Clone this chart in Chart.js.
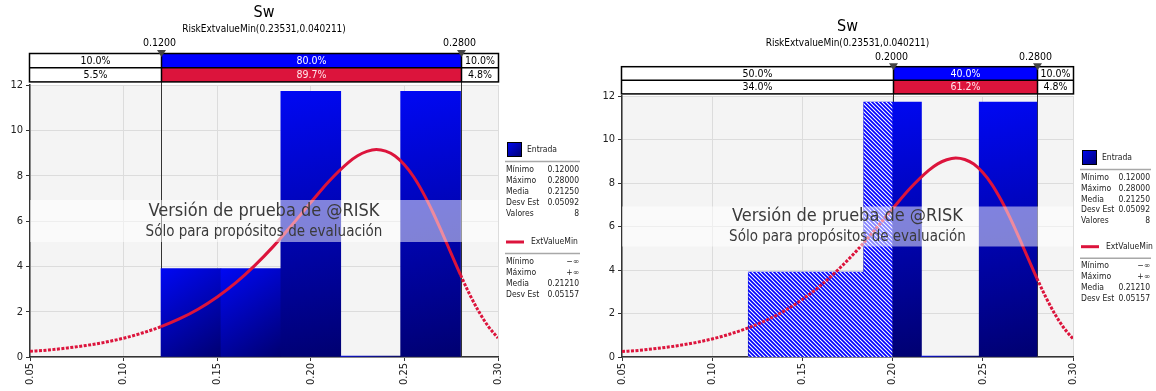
<!DOCTYPE html>
<html>
<head>
<meta charset="utf-8">
<script src="https://cdn.jsdelivr.net/npm/chart.js@4.4.1/dist/chart.umd.min.js"></script>
<style>
  html, body { margin: 0; padding: 0; background: #fff; }
  #wrap { position: relative; width: 1156px; height: 391px; }
  #leftBox { position: absolute; left: 0; top: 0; width: 580px; height: 391px; }
  #rightBox { position: absolute; left: 580px; top: 0; width: 576px; height: 391px; }
</style>
</head>
<body>
<div id="wrap">
  <div id="leftBox"><canvas id="leftChart"></canvas></div>
  <div id="rightBox"><canvas id="rightChart"></canvas></div>
</div>
<script>
// histogram of the 8 input values (density)
const binCenters = [0.136, 0.168, 0.200, 0.232, 0.264];
const binDensity = [3.906, 3.906, 11.719, 0, 11.719];
const binWidth = 0.032;

// fitted ExtValueMin curve
const curveX = [0.05, 0.06, 0.07, 0.08, 0.09, 0.10, 0.11, 0.12, 0.13, 0.14, 0.15, 0.16, 0.17, 0.18, 0.19,
  0.20, 0.21, 0.22, 0.225, 0.23, 0.235, 0.24, 0.245, 0.25, 0.255, 0.26, 0.265, 0.27, 0.275, 0.28,
  0.285, 0.29, 0.295, 0.30];
const curveY = [0.25, 0.31, 0.40, 0.51, 0.65, 0.83, 1.06, 1.34, 1.69, 2.12, 2.65, 3.28, 4.03, 4.88, 5.83,
  6.82, 7.78, 8.58, 8.88, 9.07, 9.15, 9.08, 8.87, 8.48, 7.94, 7.24, 6.42, 5.51, 4.56, 3.62,
  2.74, 1.97, 1.33, 0.84];

const xTicks = [0.05, 0.10, 0.15, 0.20, 0.25, 0.30];
const yTicks = [0, 2, 4, 6, 8, 10, 12];

const titleText = "Sw";
const subtitleText = "RiskExtvalueMin(0.23531,0.040211)";
const watermark1 = "Versión de prueba de @RISK";
const watermark2 = "Sólo para propósitos de evaluación";

const leftDelims = [0.12, 0.28];
const leftInputPct = ["10.0%", "80.0%", "10.0%"];
const leftFitPct = ["5.5%", "89.7%", "4.8%"];
const rightDelims = [0.20, 0.28];
const rightInputPct = ["50.0%", "40.0%", "10.0%"];
const rightFitPct = ["34.0%", "61.2%", "4.8%"];

const inputName = "Entrada";
const inputStatLabels = ["Mínimo", "Máximo", "Media", "Desv Est", "Valores"];
const inputStats = ["0.12000", "0.28000", "0.21250", "0.05092", "8"];
const fitName = "ExtValueMin";
const fitStatLabels = ["Mínimo", "Máximo", "Media", "Desv Est"];
const fitStats = ["\u2212\u221e", "+\u221e", "0.21210", "0.05157"];

const fontFam = "'DejaVu Sans Condensed', 'DejaVu Sans', sans-serif";
const CRIMSON = "#dc143c";
Chart.defaults.font.family = fontFam;
Chart.defaults.color = "#222";

function hatchPattern() {
  const c = document.createElement("canvas");
  c.width = 4; c.height = 4;
  const g = c.getContext("2d");
  g.fillStyle = "#0000ff";
  g.fillRect(0, 0, 4, 4);
  g.strokeStyle = "#ffffff";
  g.lineWidth = 1.1;
  g.beginPath();
  g.moveTo(-1, -1); g.lineTo(5, 5);
  g.moveTo(-1, 3); g.lineTo(1, 5);
  g.moveTo(3, -1); g.lineTo(5, 1);
  g.stroke();
  return g.createPattern(c, "repeat");
}

function barFill(ctx) {
  const chart = ctx.chart;
  if (!chart.chartArea || ctx.type !== "data") return "#0000c0";
  const xs = chart.scales.x, ys = chart.scales.y;
  const v = ctx.raw;
  const x0 = xs.getPixelForValue(v.x - binWidth / 2);
  const x1 = xs.getPixelForValue(v.x + binWidth / 2);
  const y0 = ys.getPixelForValue(v.y);
  const y1 = ys.getPixelForValue(0);
  const g = chart.ctx.createLinearGradient(x0, y0, x1, y1 + 1);
  g.addColorStop(0, "#0008f4");
  g.addColorStop(1, "#000070");
  return g;
}

function hatchPoints(limit) {
  const pts = [];
  binCenters.forEach((c, i) => {
    const l = c - binWidth / 2;
    if (l < limit - 1e-9) pts.push({ x: l, y: binDensity[i] });
  });
  const k = binCenters.findIndex(c => c + binWidth / 2 > limit);
  pts.push({ x: limit, y: binDensity[k] });
  return pts;
}

function panelPlugin(cfg) {
  return {
    id: "riskPanel",
    beforeDraw(chart) {
      const { ctx, chartArea: a } = chart;
      ctx.save();
      ctx.fillStyle = "#f4f4f4";
      ctx.fillRect(a.left, a.top, a.right - a.left, a.bottom - a.top);
      ctx.restore();
    },
    beforeDatasetsDraw(chart) {
      const { ctx, chartArea: a, scales: { x } } = chart;
      ctx.save();
      ctx.strokeStyle = "#333";
      ctx.lineWidth = 1;
      cfg.delims.forEach(d => {
        const px = Math.round(x.getPixelForValue(d)) + 0.5;
        ctx.beginPath();
        ctx.moveTo(px, a.top - 4);
        ctx.lineTo(px, a.bottom);
        ctx.stroke();
      });
      ctx.restore();
    },
    afterDatasetsDraw(chart) {
      const { ctx, chartArea: a } = chart;
      const cx = (a.left + a.right) / 2;
      const my = (a.top + a.bottom) / 2;
      ctx.save();
      ctx.fillStyle = "rgba(255,255,255,0.5)";
      ctx.fillRect(a.left, my - cfg.band / 2, a.right - a.left, cfg.band);
      ctx.fillStyle = "#3a3a3a";
      ctx.textAlign = "center";
      ctx.textBaseline = "middle";
      ctx.font = "18px " + fontFam;
      ctx.fillText(watermark1, cx, my - 10);
      ctx.font = "15px " + fontFam;
      ctx.fillText(watermark2, cx, my + 11);
      ctx.restore();
    },
    afterDraw(chart) {
      const { ctx, chartArea: a, scales: { x } } = chart;
      const cx = (a.left + a.right) / 2;
      ctx.save();
      ctx.textAlign = "center";
      ctx.textBaseline = "middle";
      ctx.fillStyle = "#000";
      ctx.font = "16px " + fontFam;
      ctx.fillText(titleText, cx, cfg.titleY);
      ctx.font = "10px " + fontFam;
      ctx.fillText(subtitleText, cx, cfg.titleY + 16);

      const d0 = Math.round(x.getPixelForValue(cfg.delims[0])) + 0.5;
      const d1 = Math.round(x.getPixelForValue(cfg.delims[1])) + 0.5;
      ctx.font = "10.5px " + fontFam;
      ctx.fillText(cfg.delims[0].toFixed(4), d0 - 2, cfg.labelY);
      ctx.fillText(cfg.delims[1].toFixed(4), d1 - 2, cfg.labelY);

      const L = a.left - 0.5, R = a.right + 0.5, t = cfg.rowTop, h = cfg.rowH;
      const cells = [[L, d0], [d0, d1], [d1, R]];
      const rows = [[cfg.inputPct, "#0000ff", "#ffffff"], [cfg.fitPct, CRIMSON, "#ffe4ea"]];
      rows.forEach(([vals, mid, midText], r) => {
        const ry = t + r * h;
        cells.forEach(([c0, c1], i) => {
          ctx.fillStyle = i === 1 ? mid : "#ffffff";
          ctx.fillRect(c0, ry, c1 - c0, h);
          ctx.fillStyle = i === 1 ? midText : "#000";
          ctx.font = "10.5px " + fontFam;
          ctx.fillText(vals[i], (c0 + c1) / 2, ry + h / 2 + 0.5);
        });
      });
      ctx.strokeStyle = "#000";
      ctx.lineWidth = 1.5;
      ctx.strokeRect(L, t, R - L, 2 * h);
      ctx.beginPath();
      ctx.moveTo(L, t + h); ctx.lineTo(R, t + h);
      ctx.moveTo(d0, t); ctx.lineTo(d0, t + 2 * h);
      ctx.moveTo(d1, t); ctx.lineTo(d1, t + 2 * h);
      ctx.stroke();
      ctx.fillStyle = "#444";
      [d0, d1].forEach(d => {
        ctx.beginPath();
        ctx.moveTo(d - 4.5, t - 3.5);
        ctx.lineTo(d + 4.5, t - 3.5);
        ctx.lineTo(d, t + 3.5);
        ctx.closePath();
        ctx.fill();
      });

      // legend panel
      const lx = cfg.legendX, rx = cfg.legendR, y0 = cfg.legendY;
      const g = ctx.createLinearGradient(lx + 2, y0, lx + 17, y0 + 15);
      g.addColorStop(0, "#0008f4");
      g.addColorStop(1, "#000070");
      ctx.fillStyle = g;
      ctx.fillRect(lx + 2, y0, 15, 15);
      ctx.strokeStyle = "#000";
      ctx.lineWidth = 1;
      ctx.strokeRect(lx + 2.5, y0 + 0.5, 14, 14);
      ctx.font = "8.5px " + fontFam;
      ctx.textAlign = "left";
      ctx.fillStyle = "#222";
      ctx.fillText(inputName, lx + 22, y0 + 8);
      ctx.strokeStyle = "#a8a8a8";
      ctx.lineWidth = 1.5;
      ctx.beginPath();
      ctx.moveTo(lx, y0 + 19.5); ctx.lineTo(rx + 1, y0 + 19.5);
      ctx.stroke();
      inputStatLabels.forEach((lab, k) => {
        const yy = y0 + 27.5 + k * cfg.statH;
        ctx.textAlign = "left";
        ctx.fillText(lab, lx + 1, yy);
        ctx.textAlign = "right";
        ctx.fillText(inputStats[k], rx, yy);
      });
      const ry = y0 + cfg.redOff;
      ctx.strokeStyle = CRIMSON;
      ctx.lineWidth = 3;
      ctx.beginPath();
      ctx.moveTo(lx + 1, ry); ctx.lineTo(lx + 19, ry);
      ctx.stroke();
      ctx.textAlign = "left";
      ctx.fillText(fitName, lx + 26, ry);
      ctx.strokeStyle = "#a8a8a8";
      ctx.lineWidth = 1.5;
      ctx.beginPath();
      ctx.moveTo(lx, ry + 11.5); ctx.lineTo(rx + 1, ry + 11.5);
      ctx.stroke();
      fitStatLabels.forEach((lab, k) => {
        const yy = ry + 19.5 + k * cfg.statH;
        ctx.textAlign = "left";
        ctx.fillText(lab, lx + 1, yy);
        ctx.textAlign = "right";
        ctx.fillText(fitStats[k], rx, yy);
      });
      ctx.restore();
    }
  };
}

function makeChart(id, cfg) {
  const lo = cfg.delims[0], hi = cfg.delims[1];
  const datasets = [{
    type: "line",
    label: fitName,
    data: curveX.map((x, i) => ({ x, y: curveY[i] })),
    borderColor: CRIMSON,
    borderWidth: 3,
    pointRadius: 0,
    fill: false,
    cubicInterpolationMode: "monotone",
    order: 0,
    segment: {
      borderDash: s => (s.p0.parsed.x >= lo - 1e-9 && s.p1.parsed.x <= hi + 1e-9) ? [] : [3, 1.5]
    }
  }];
  if (cfg.hatch) {
    datasets.push({
      type: "line",
      label: "hatch",
      data: hatchPoints(lo),
      stepped: true,
      fill: "origin",
      backgroundColor: hatchPattern(),
      borderWidth: 0,
      pointRadius: 0,
      order: 1
    });
  }
  datasets.push({
    type: "bar",
    label: inputName,
    data: binCenters.map((x, i) => ({ x, y: binDensity[i] })),
    backgroundColor: barFill,
    barPercentage: 1,
    categoryPercentage: 1,
    minBarLength: 1,
    borderWidth: 0,
    order: 2
  });

  return new Chart(document.getElementById(id), {
    type: "bar",
    data: { datasets },
    options: {
      responsive: true,
      maintainAspectRatio: false,
      animation: false,
      layout: { padding: { top: cfg.plotTop, right: cfg.padRight, left: 0, bottom: 0 } },
      plugins: { legend: { display: false }, tooltip: { enabled: false } },
      scales: {
        x: {
          type: "linear",
          min: 0.05,
          max: 0.30,
          offset: false,
          grid: { offset: false, color: "#dcdcdc", tickLength: 4, tickColor: "#333" },
          border: { color: "#333", width: 1.5 },
          afterBuildTicks: s => { s.ticks = xTicks.map(v => ({ value: v })); },
          afterFit: s => { s.height = 34; },
          ticks: {
            minRotation: 90,
            maxRotation: 90,
            padding: 2,
            color: "#222",
            font: { size: 11 },
            callback: v => Number(v).toFixed(2)
          }
        },
        y: {
          type: "linear",
          min: 0,
          max: 12,
          grid: { color: "#dcdcdc", tickLength: 4, tickColor: "#333" },
          border: { color: "#333", width: 1.5 },
          afterBuildTicks: s => { s.ticks = yTicks.map(v => ({ value: v })); },
          afterFit: s => { s.width = cfg.yWidth; },
          ticks: { padding: 3, color: "#222", font: { size: 11 } }
        }
      }
    },
    plugins: [panelPlugin(cfg)]
  });
}

makeChart("leftChart", {
  delims: leftDelims, inputPct: leftInputPct, fitPct: leftFitPct, hatch: false,
  plotTop: 85, padRight: 82, yWidth: 30,
  titleY: 13, labelY: 43, rowTop: 53.5, rowH: 14.2, band: 42,
  legendX: 505, legendR: 579, legendY: 142, redOff: 100, statH: 11
});

makeChart("rightChart", {
  delims: rightDelims, inputPct: rightInputPct, fitPct: rightFitPct, hatch: true,
  plotTop: 96, padRight: 83, yWidth: 42,
  titleY: 27, labelY: 57, rowTop: 66.7, rowH: 13.6, band: 40,
  legendX: 500, legendR: 570, legendY: 150, redOff: 96.7, statH: 10.9
});
</script>
</body>
</html>
